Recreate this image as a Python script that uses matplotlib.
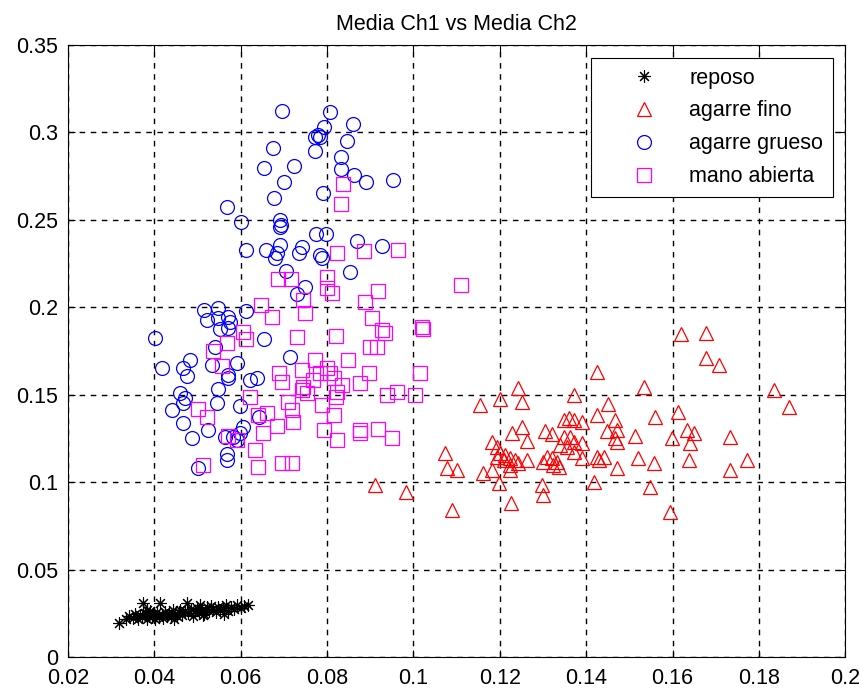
import numpy as np
import matplotlib.pyplot as plt

# media canal 1 / media canal 2 por clase
reposo_x = [0.0319, 0.0335, 0.0342, 0.0350, 0.0356, 0.0362, 0.0366, 0.0371, 0.0374, 0.0378,
            0.0383, 0.0387, 0.0391, 0.0395, 0.0398, 0.0402, 0.0406, 0.0410, 0.0413, 0.0417,
            0.0421, 0.0425, 0.0430, 0.0434, 0.0438, 0.0443, 0.0447, 0.0452, 0.0456, 0.0460,
            0.0465, 0.0470, 0.0475, 0.0479, 0.0484, 0.0489, 0.0494, 0.0498, 0.0503, 0.0506,
            0.0511, 0.0516, 0.0521, 0.0526, 0.0531, 0.0537, 0.0542, 0.0548, 0.0553, 0.0559,
            0.0565, 0.0571, 0.0578, 0.0585, 0.0592, 0.0600, 0.0608, 0.0618, 0.0382, 0.0446,
            0.0513, 0.0561]
reposo_y = [0.0193, 0.0215, 0.0236, 0.0222, 0.0247, 0.0218, 0.0238, 0.0228, 0.0307, 0.0250,
            0.0215, 0.0236, 0.0262, 0.0226, 0.0245, 0.0218, 0.0255, 0.0232, 0.0307, 0.0242,
            0.0224, 0.0260, 0.0238, 0.0250, 0.0229, 0.0266, 0.0244, 0.0235, 0.0258, 0.0271,
            0.0241, 0.0262, 0.0307, 0.0250, 0.0274, 0.0236, 0.0265, 0.0282, 0.0255, 0.0300,
            0.0270, 0.0248, 0.0283, 0.0262, 0.0292, 0.0274, 0.0255, 0.0288, 0.0268, 0.0280,
            0.0297, 0.0262, 0.0285, 0.0272, 0.0295, 0.0280, 0.0290, 0.0297, 0.0270, 0.0218,
            0.0240, 0.0248]

fino_x = [0.1620, 0.1678, 0.1678, 0.1707, 0.1834, 0.1869, 0.1425, 0.1533, 0.1243, 0.1371,
          0.1155, 0.1201, 0.1251, 0.1450, 0.1425, 0.1467, 0.1359, 0.1348, 0.1371, 0.1390,
          0.1560, 0.1612, 0.1251, 0.1305, 0.1321, 0.1228, 0.1448, 0.1471, 0.1467, 0.1471,
          0.1514, 0.1634, 0.1649, 0.1641, 0.1599, 0.1734, 0.1182, 0.1262, 0.1348, 0.1363,
          0.1371, 0.1390, 0.1340, 0.1355, 0.1371, 0.1073, 0.1193, 0.1201, 0.1212, 0.1224,
          0.1236, 0.1243, 0.1209, 0.1224, 0.1193, 0.1262, 0.1309, 0.1321, 0.1332, 0.1324,
          0.1336, 0.1301, 0.1390, 0.1425, 0.1440, 0.1429, 0.1521, 0.1556, 0.1637, 0.1773,
          0.1077, 0.1101, 0.1162, 0.1182, 0.1224, 0.1471, 0.1734, 0.1197, 0.1298, 0.1301,
          0.1417, 0.1548, 0.0983, 0.0911, 0.1089, 0.1226, 0.1595]
fino_y = [0.1847, 0.1855, 0.1712, 0.1670, 0.1527, 0.1432, 0.1628, 0.1546, 0.1537, 0.1498,
          0.1441, 0.1474, 0.1460, 0.1445, 0.1384, 0.1355, 0.1365, 0.1355, 0.1355, 0.1342,
          0.1374, 0.1403, 0.1314, 0.1294, 0.1275, 0.1280, 0.1294, 0.1298, 0.1251, 0.1231,
          0.1264, 0.1298, 0.1280, 0.1222, 0.1251, 0.1260, 0.1231, 0.1237, 0.1260, 0.1260,
          0.1231, 0.1222, 0.1212, 0.1203, 0.1174, 0.1165, 0.1203, 0.1165, 0.1155, 0.1136,
          0.1127, 0.1108, 0.1127, 0.1098, 0.1146, 0.1127, 0.1146, 0.1136, 0.1117, 0.1098,
          0.1088, 0.1117, 0.1136, 0.1146, 0.1146, 0.1127, 0.1136, 0.1108, 0.1127, 0.1127,
          0.1079, 0.1069, 0.1051, 0.1069, 0.1069, 0.1079, 0.1069, 0.0993, 0.0984, 0.0926,
          0.1003, 0.0974, 0.0945, 0.0984, 0.0841, 0.0879, 0.0831]

grueso_x = [0.0695, 0.0807, 0.0861, 0.0792, 0.0780, 0.0784, 0.0772, 0.0846, 0.0674, 0.0771,
            0.0833, 0.0833, 0.0655, 0.0724, 0.0863, 0.0890, 0.0952, 0.0700, 0.0791, 0.0678,
            0.0568, 0.0601, 0.0691, 0.0693, 0.0691, 0.0775, 0.0798, 0.0869, 0.0928, 0.0612,
            0.0659, 0.0691, 0.0684, 0.0680, 0.0741, 0.0734, 0.0784, 0.0788, 0.0853, 0.0705,
            0.0749, 0.0730, 0.0515, 0.0548, 0.0521, 0.0548, 0.0571, 0.0575, 0.0551, 0.0612,
            0.0571, 0.0402, 0.0655, 0.0541, 0.0713, 0.0483, 0.0467, 0.0476, 0.0417, 0.0533,
            0.0591, 0.0571, 0.0571, 0.0622, 0.0637, 0.0548, 0.0459, 0.0471, 0.0467, 0.0440,
            0.0545, 0.0599, 0.0643, 0.0467, 0.0525, 0.0606, 0.0599, 0.0591, 0.0564, 0.0583,
            0.0487, 0.0568, 0.0568, 0.0502]
grueso_y = [0.3124, 0.3115, 0.3047, 0.3033, 0.2985, 0.2976, 0.2976, 0.2951, 0.2909, 0.2894,
            0.2861, 0.2789, 0.2797, 0.2808, 0.2758, 0.2717, 0.2728, 0.2717, 0.2654, 0.2627,
            0.2574, 0.2490, 0.2500, 0.2471, 0.2458, 0.2420, 0.2420, 0.2381, 0.2351, 0.2328,
            0.2328, 0.2357, 0.2309, 0.2280, 0.2347, 0.2309, 0.2299, 0.2280, 0.2204, 0.2208,
            0.2114, 0.2074, 0.1985, 0.1994, 0.1927, 0.1937, 0.1946, 0.1918, 0.1874, 0.1981,
            0.1880, 0.1826, 0.1817, 0.1775, 0.1718, 0.1699, 0.1651, 0.1607, 0.1651, 0.1670,
            0.1683, 0.1613, 0.1594, 0.1584, 0.1594, 0.1533, 0.1508, 0.1479, 0.1451, 0.1413,
            0.1451, 0.1436, 0.1374, 0.1337, 0.1298, 0.1317, 0.1280, 0.1241, 0.1260, 0.1260,
            0.1251, 0.1161, 0.1127, 0.1079]

abierta_x = [0.0836, 0.0833, 0.0824, 0.0886, 0.0965, 0.0687, 0.0717, 0.0799, 0.0799, 0.0811,
             0.0919, 0.0887, 0.0745, 0.0749, 0.0646, 0.0672, 0.0904, 0.1020, 0.1023, 0.0927,
             0.0934, 0.0606, 0.0612, 0.0568, 0.0535, 0.0730, 0.0821, 0.0900, 0.0915, 0.0556,
             0.0689, 0.0695, 0.0741, 0.0772, 0.0799, 0.0807, 0.0784, 0.0768, 0.0815, 0.0849,
             0.0834, 0.0896, 0.0877, 0.1016, 0.0745, 0.0753, 0.0741, 0.0823, 0.0821, 0.0938,
             0.0962, 0.1004, 0.0622, 0.0710, 0.0718, 0.0788, 0.0502, 0.0521, 0.0641, 0.0660,
             0.0722, 0.0684, 0.0652, 0.0816, 0.0792, 0.0823, 0.0877, 0.0877, 0.0919, 0.0950,
             0.0571, 0.0591, 0.0633, 0.0640, 0.0695, 0.0718, 0.0513, 0.1111]
abierta_y = [0.2705, 0.2591, 0.2309, 0.2324, 0.2328, 0.2164, 0.2164, 0.2175, 0.2109, 0.2080,
             0.2093, 0.2032, 0.2042, 0.1966, 0.2013, 0.1946, 0.1937, 0.1889, 0.1874, 0.1870,
             0.1851, 0.1860, 0.1817, 0.1794, 0.1750, 0.1828, 0.1836, 0.1775, 0.1775, 0.1664,
             0.1626, 0.1575, 0.1641, 0.1699, 0.1651, 0.1623, 0.1623, 0.1584, 0.1594, 0.1699,
             0.1556, 0.1623, 0.1565, 0.1623, 0.1546, 0.1508, 0.1527, 0.1517, 0.1489, 0.1498,
             0.1517, 0.1498, 0.1489, 0.1460, 0.1413, 0.1441, 0.1417, 0.1374, 0.1384, 0.1394,
             0.1346, 0.1321, 0.1280, 0.1384, 0.1298, 0.1241, 0.1298, 0.1280, 0.1302, 0.1251,
             0.1264, 0.1241, 0.1184, 0.1088, 0.1108, 0.1108, 0.1098, 0.2127]

xticks = [0.02, 0.04, 0.06, 0.08, 0.1, 0.12, 0.14, 0.16, 0.18, 0.2]
yticks = [0, 0.05, 0.1, 0.15, 0.2, 0.25, 0.3, 0.35]

plt.rcParams['font.family'] = ['Liberation Sans', 'DejaVu Sans']
plt.rcParams['font.size'] = 15.5

fig = plt.figure(figsize=(8.6, 6.92), dpi=100)
ax = fig.add_axes([0.079, 0.0506, 0.904, 0.8844])

mk = dict(linestyle='none', markersize=10, markeredgewidth=0.9, fillstyle='none')
ax.plot(reposo_x, reposo_y, marker=(8, 2, 0), color='k', label='reposo',
        linestyle='none', markersize=9, markeredgewidth=0.8)
ax.plot(fino_x, fino_y, marker='^', color='red', label='agarre fino', **mk)
ax.plot(grueso_x, grueso_y, marker='o', color='blue', label='agarre grueso', **mk)
ax.plot(abierta_x, abierta_y, marker='s', color='magenta', label='mano abierta', **mk)

ax.set_xlim(0.02, 0.2)
ax.set_ylim(0, 0.35)
ax.set_xticks(xticks)
ax.set_yticks(yticks)
ax.set_xticklabels(['0.02', '0.04', '0.06', '0.08', '0.1', '0.12', '0.14', '0.16', '0.18', '0.2'])
ax.set_yticklabels(['0', '0.05', '0.1', '0.15', '0.2', '0.25', '0.3', '0.35'])
ax.tick_params(direction='in', top=True, right=True, length=5, width=0.8, labelsize=15.5)
ax.tick_params(axis='x', pad=8)
ax.tick_params(axis='y', pad=7)
ax.grid(True, color='k', linestyle=(0, (4, 4)), linewidth=1.0)
for s in ax.spines.values():
    s.set_linewidth(0.8)

ax.set_title('Media Ch1 vs Media Ch2', fontsize=15.5, pad=11)

leg = ax.legend(loc='upper right', bbox_to_anchor=(0.984, 0.979), fancybox=False,
                edgecolor='k', framealpha=1, labelspacing=0.55, handletextpad=0.1,
                borderpad=0.45, borderaxespad=0, fontsize=15.5, handlelength=4.0)
leg.get_frame().set_linewidth(0.8)

fig.savefig('out.png', dpi=100)
